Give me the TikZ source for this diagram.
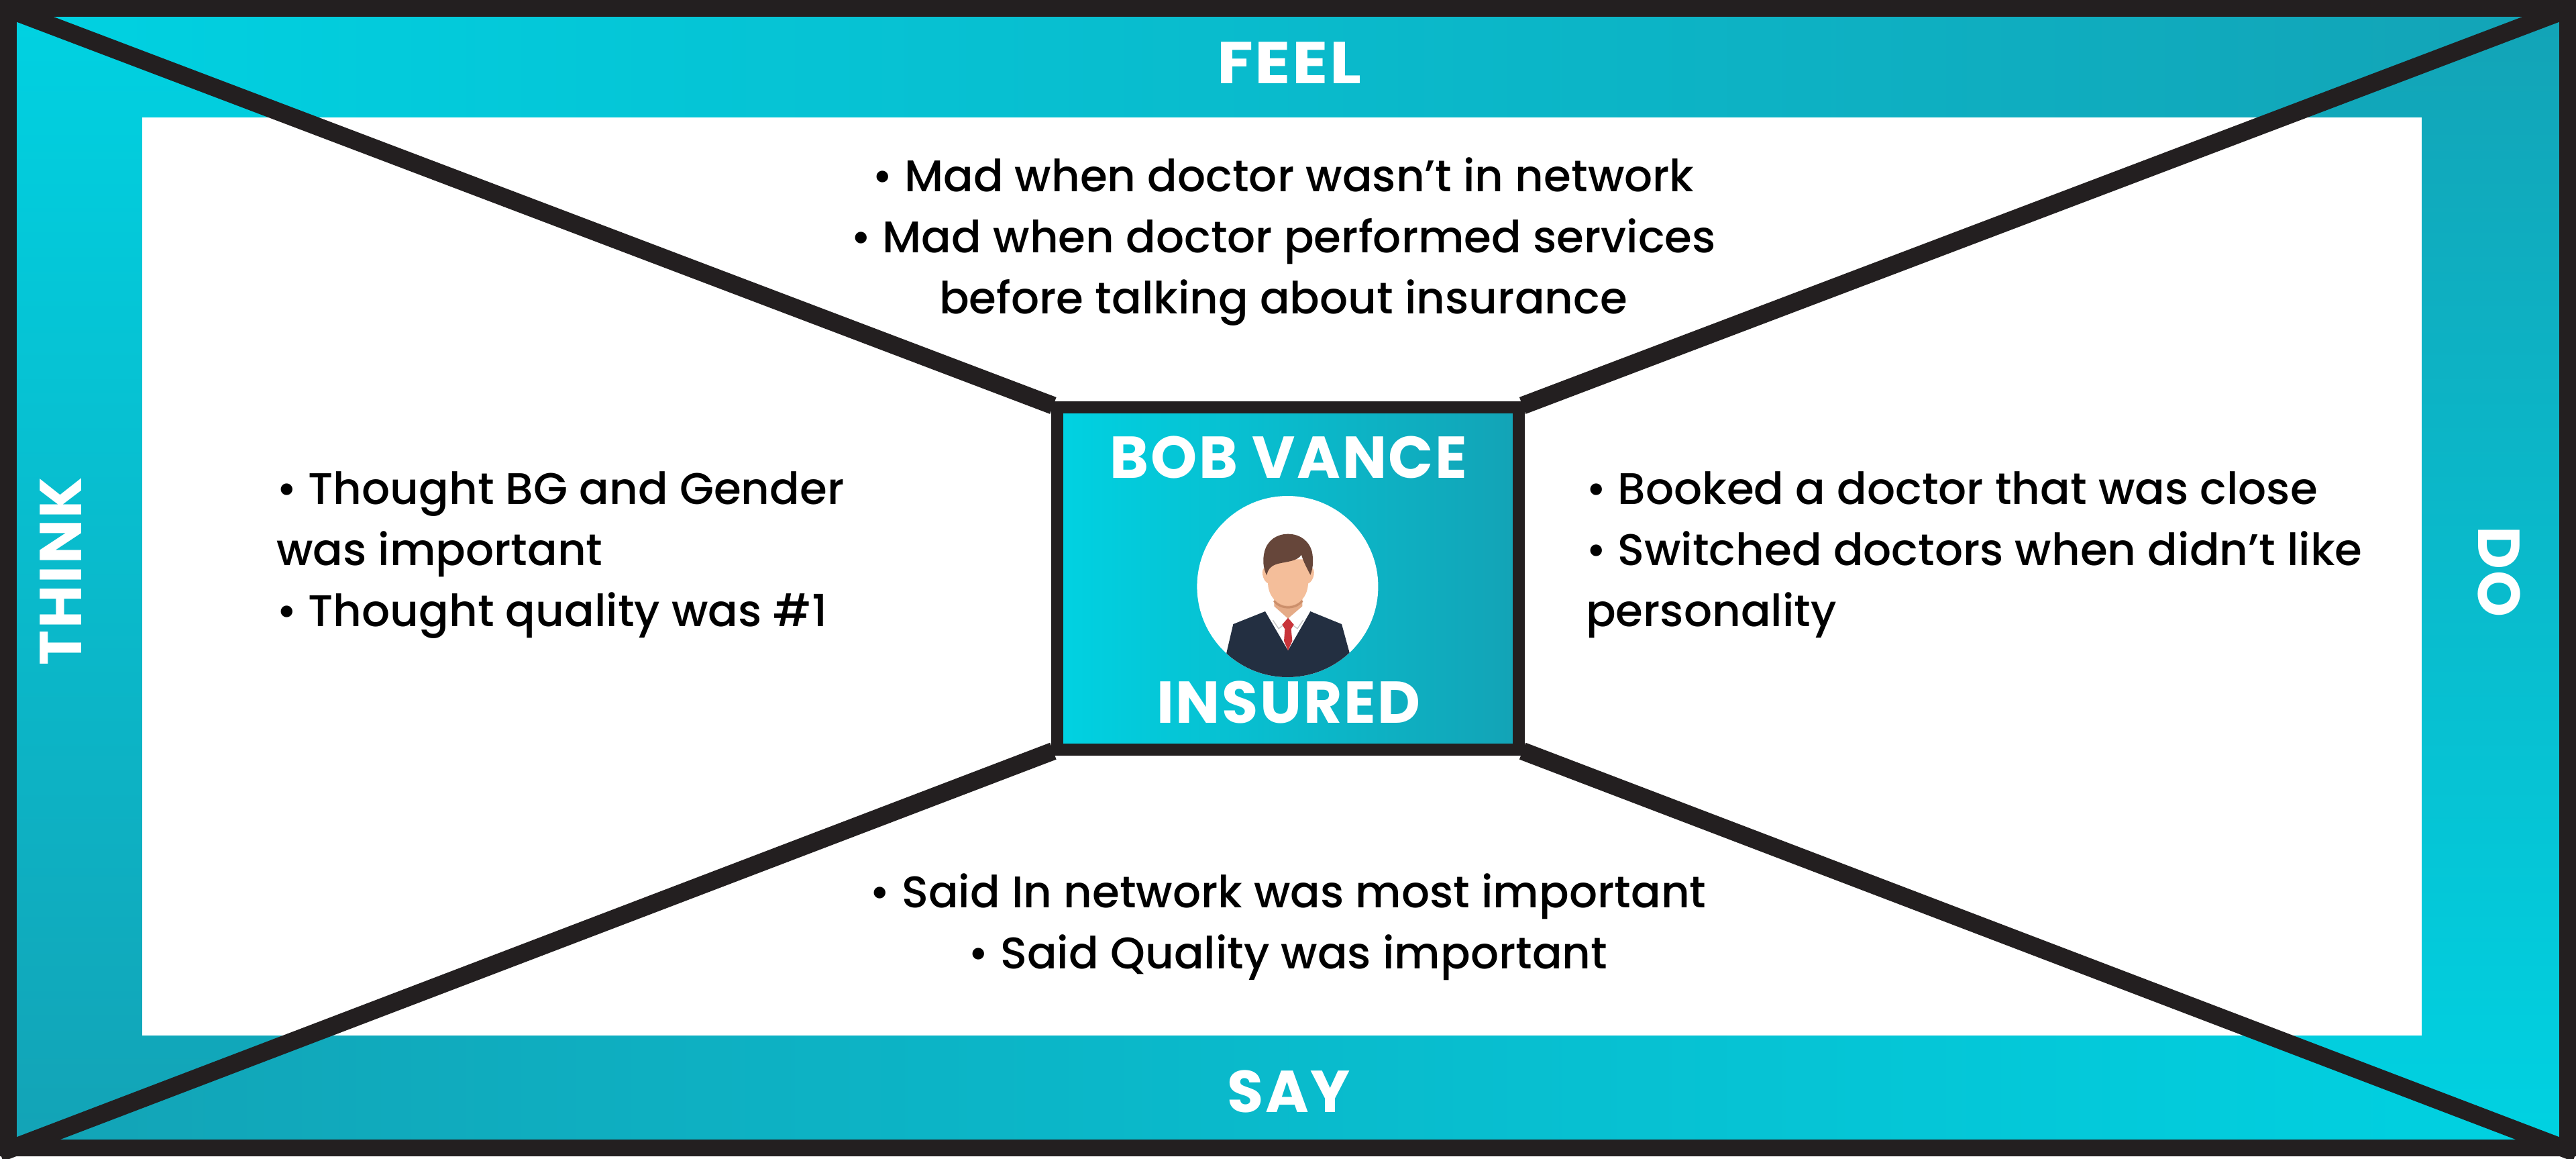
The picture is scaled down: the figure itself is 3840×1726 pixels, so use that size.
\documentclass[tikz,border=0pt]{standalone}
\usepackage{fontspec}
\setmainfont{Poppins}
\newfontfamily\bodyf{Poppins Medium}
\newfontfamily\headf[LetterSpace=3]{Poppins Bold}
\newfontfamily\headwide[LetterSpace=3,FakeStretch=1.12]{Poppins Bold}
\definecolor{cyanL}{HTML}{00D2E2}
\definecolor{cyanD}{HTML}{13A3B6}
\definecolor{ink}{HTML}{231F20}
\definecolor{suit}{HTML}{232F41}
\definecolor{hair}{HTML}{66463A}
\definecolor{skin}{HTML}{F4BE9A}
\definecolor{neck}{HTML}{E5AB87}
\definecolor{neckdark}{HTML}{CC8F6B}
\definecolor{tie}{HTML}{C8343A}
\tikzset{
  diag/.style={draw=ink,line width=13.3pt,line cap=butt},
  body/.style={font={\bodyf\fontsize{33}{45.5}\selectfont},text=black,inner sep=0pt,outer sep=0pt},
  head/.style={font={\headf\fontsize{44}{50}\selectfont},text=white,inner sep=0pt,outer sep=0pt},
  headw/.style={font={\headwide\fontsize{44}{50}\selectfont},text=white,inner sep=0pt,outer sep=0pt},
}
\begin{document}
\begin{tikzpicture}[x=0.5pt,y=-0.5pt]
\useasboundingbox (0,0) rectangle (3840,1726);
\fill[white] (0,0) rectangle (3840,1726);
% coloured frame
\shade[left color=cyanL,right color=cyanD] (0,0) -- (3840,0) -- (2270,600) -- (1570,600) -- cycle;
\shade[left color=cyanD,right color=cyanL] (0,1712) -- (3840,1712) -- (2270,1120) -- (1570,1120) -- cycle;
\shade[top color=cyanL,bottom color=cyanD] (0,0) -- (1570,600) -- (1570,1120) -- (0,1712) -- cycle;
\shade[top color=cyanD,bottom color=cyanL] (3840,0) -- (2270,600) -- (2270,1120) -- (3840,1712) -- cycle;
\node[fill=white,inner sep=0pt,outer sep=0pt,minimum width=1699pt,minimum height=684pt,anchor=north west] (panel) at (212,175) {};
% centre box
\node[draw=ink,line width=9pt,inner sep=0pt,outer sep=0pt,minimum width=344.25pt,minimum height=255.25pt,anchor=north west,
      left color=cyanL,right color=cyanD] (box) at (1575.5,606.5) {};
% corners
\coordinate (tl) at (0,9);
\coordinate (tr) at (3840,9);
\coordinate (bl) at (0,1718);
\coordinate (br) at (3840,1718);
\draw[diag,shorten >=3pt] (tl) -- (box.north west);
\draw[diag,shorten >=3pt] (tr) -- (box.north east);
\draw[diag,shorten >=3pt] (bl) -- (box.south west);
\draw[diag,shorten >=3pt] (br) -- (box.south east);
\node[draw=ink,line width=12.5pt,inner sep=0pt,outer sep=0pt,minimum width=1907.5pt,minimum height=849pt,anchor=north west] (frame) at (12.5,12.5) {};
% person
\fill[white] (1919.4,874) circle (135);
\begin{scope}
\clip (1919.4,874) circle (135);
\begin{scope}[shift={(1780,780)},x=0.16667pt,y=-0.16667pt]
\fill[suit] (145,578) -- (175,450) -- (318,393) -- (420,568) -- (520,393) -- (660,450) -- (695,578) -- (695,720) -- (145,720) -- cycle;
\fill[neck] (358,320) -- (484,320) -- (484,370) -- (420,425) -- (358,370) -- cycle;
\draw[neckdark,line width=1.6pt] (358,345) .. controls (385,385) and (455,385) .. (484,345);
\fill[skin] (318,198) .. controls (296,198) and (305,260) .. (332,268) -- (510,268) .. controls (537,260) and (546,198) .. (524,198) -- cycle;
\fill[skin] (330,160) -- (330,270) .. controls (335,340) and (385,368) .. (420,368) .. controls (458,368) and (505,340) .. (510,270) -- (510,160) -- cycle;
\fill[hair] (325,232) .. controls (308,200) and (306,160) .. (315,125) .. controls (328,75) and (370,47) .. (420,47) .. controls (475,47) and (515,80) .. (527,125) .. controls (535,165) and (532,200) .. (520,230) .. controls (505,200) and (488,170) .. (480,140) .. controls (460,170) and (415,170) .. (375,180) .. controls (350,187) and (330,200) .. (325,232) -- cycle;
\draw[gray!45,line width=0.7pt] (352,432) -- (378,470) -- (398,455);
\draw[gray!45,line width=0.7pt] (488,432) -- (462,470) -- (442,455);
\fill[tie] (420,422) -- (446,452) -- (434,472) -- (439,525) -- (420,568) -- (402,525) -- (406,472) -- (394,452) -- cycle;
\end{scope}
\end{scope}
% labels
\node[headw,anchor=base] (feel) at (1922,124) {FEEL};
\node[head,anchor=base] (say) at (1921,1657) {SAY};
\node[head,anchor=center,rotate=90] (think) at (91,851) {THINK};
\node[head,anchor=center,rotate=-90] (do) at (3725,852) {DO};
\node[head,anchor=base] (name) at (1921,712) {BOB VANCE};
\node[head,anchor=base] (role) at (1921,1077) {INSURED};
\node[body,align=center,anchor=base] (feeltext) at (1913,467) {• Mad when doctor wasn’t in network\\• Mad when doctor performed services\\before talking about insurance};
\node[body,align=left,anchor=base west] (thinktext) at (412,933) {• Thought BG and Gender\\was important\\• Thought quality was \#1};
\node[body,align=left,anchor=base west] (dotext) at (2364,933) {• Booked a doctor that was close\\• Switched doctors when didn’t like\\personality};
\node[body,align=center,anchor=base] (saytext) at (1920,1443) {• Said In network was most important\\• Said Quality was important};
\end{tikzpicture}
\end{document}
